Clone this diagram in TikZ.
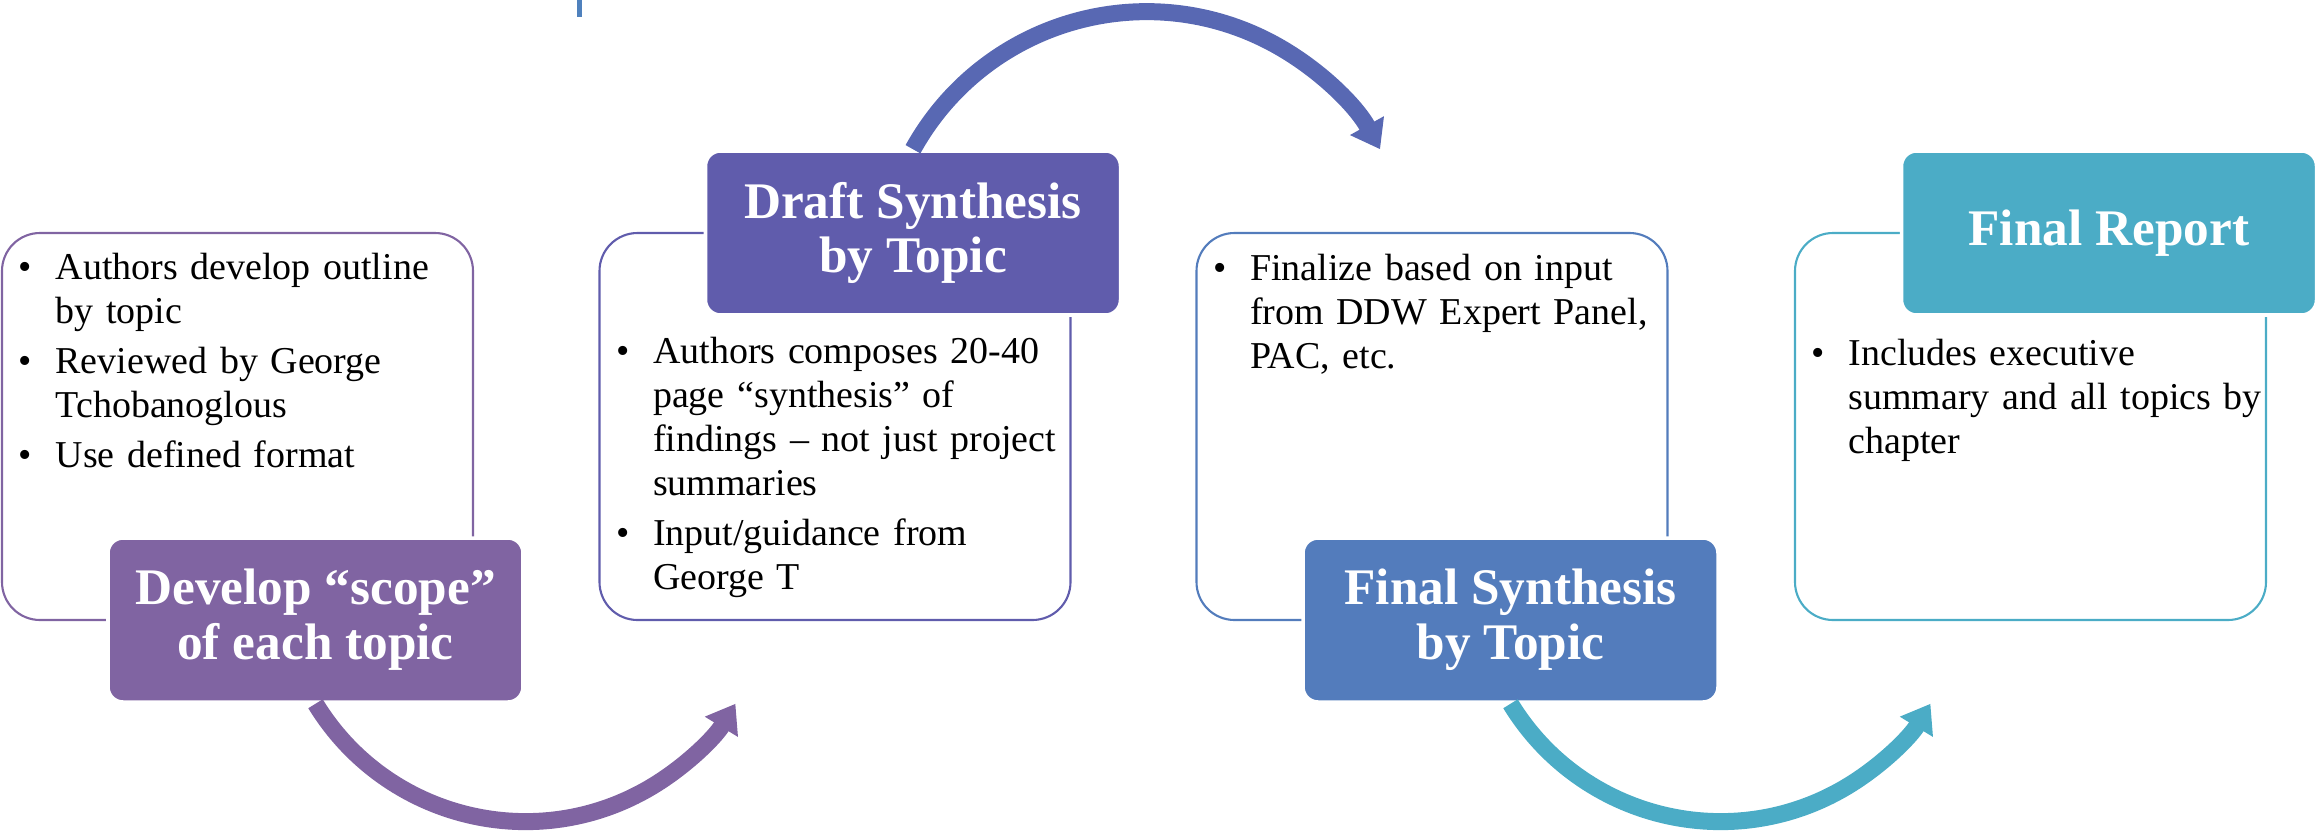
\documentclass[tikz,border=0pt]{standalone}
\usepackage{fontspec}
\setmainfont{Liberation Serif}
\usetikzlibrary{arrows.meta,positioning}

\definecolor{stA}{HTML}{8064A2}
\definecolor{stB}{HTML}{605CAC}
\definecolor{stBarc}{HTML}{5868B3}
\definecolor{stC}{HTML}{537CBC}
\definecolor{stD}{HTML}{4BACC6}
\definecolor{titleblue}{HTML}{4F81BD}

\newcommand{\bodyfont}{\fontsize{10.8pt}{12.5pt}\selectfont}
\newcommand{\headfont}{\bfseries\fontsize{14.6pt}{15.6pt}\selectfont}
\newcommand{\bpt}[1]{\noindent\makebox[0.37cm][l]{\textbullet}\begin{tabular}[t]{@{}l@{}}#1\end{tabular}\par\vspace{0.7pt}}

\tikzset{
  panel/.style={draw=#1, line width=0.6pt, rounded corners=0.38cm,
    minimum width=4.71cm, minimum height=3.87cm, inner sep=0pt},
  stagehead/.style={fill=#1, draw=white, line width=1pt, rounded corners=0.15cm,
    minimum width=4.15cm, minimum height=1.64cm, inner sep=0pt,
    text=white, font=\headfont, align=center},
  notes/.style={anchor=north west, inner sep=0pt, text width=4.4cm, font=\bodyfont},
  swing/.style={draw=#1, line width=0.17cm, -{Triangle[length=0.27cm,width=0.37cm]}},
}

\begin{document}
\begin{tikzpicture}
  \useasboundingbox (0,0) rectangle (23.17,8.33);
  % cut-off title above the flow
  \fill[titleblue] (5.77,8.33) rectangle (5.82,8.16);
  % outline panels
  \node[panel=stA] (panel1) at (2.375,4.065) {};
  \node[panel=stB] (panel2) at (8.35,4.065) {};
  \node[panel=stC] (panel3) at (14.32,4.065) {};
  \node[panel=stD] (panel4) at (20.305,4.065) {};
  % bullet texts
  \node[notes, below right=0.16cm and 0.17cm of panel1.north west] (notes1) {%
    \bpt{Authors develop outline\\by topic}
    \bpt{Reviewed by George\\Tchobanoglous}
    \bpt{Use defined format}};
  \node[notes, below right=1.0cm and 0.17cm of panel2.north west] (notes2) {%
    \bpt{Authors composes 20-40\\page “synthesis” of\\findings -- not just project\\summaries}
    \bpt{Input/guidance from\\George T}};
  \node[notes, below right=0.17cm and 0.17cm of panel3.north west] (notes3) {%
    \bpt{Finalize based on input\\from DDW Expert Panel,\\PAC, etc.}};
  \node[notes, below right=1.02cm and 0.17cm of panel4.north west] (notes4) {%
    \bpt{Includes executive\\summary and all topics by\\chapter}};
  % stage headers
  \node[stagehead=stA] (head1) at (3.155,2.13) {Develop “scope”\\of each topic};
  \node[stagehead=stB] (head2) at (9.13,6.00) {Draft Synthesis\\by Topic};
  \node[stagehead=stC] (head3) at (15.105,2.13) {Final Synthesis\\by Topic};
  \node[stagehead=stD] (head4) at (21.09,6.00) {Final Report};
  % curved arrows between stages
  \draw[swing=stA] (head1.south) arc[start angle=211.4, end angle=328.6, radius=2.46cm];
  \draw[swing=stBarc] (head2.north) arc[start angle=151, end angle=29, radius=2.67cm];
  \draw[swing=stD] (head3.south) arc[start angle=211.4, end angle=328.6, radius=2.46cm];
\end{tikzpicture}
\end{document}
